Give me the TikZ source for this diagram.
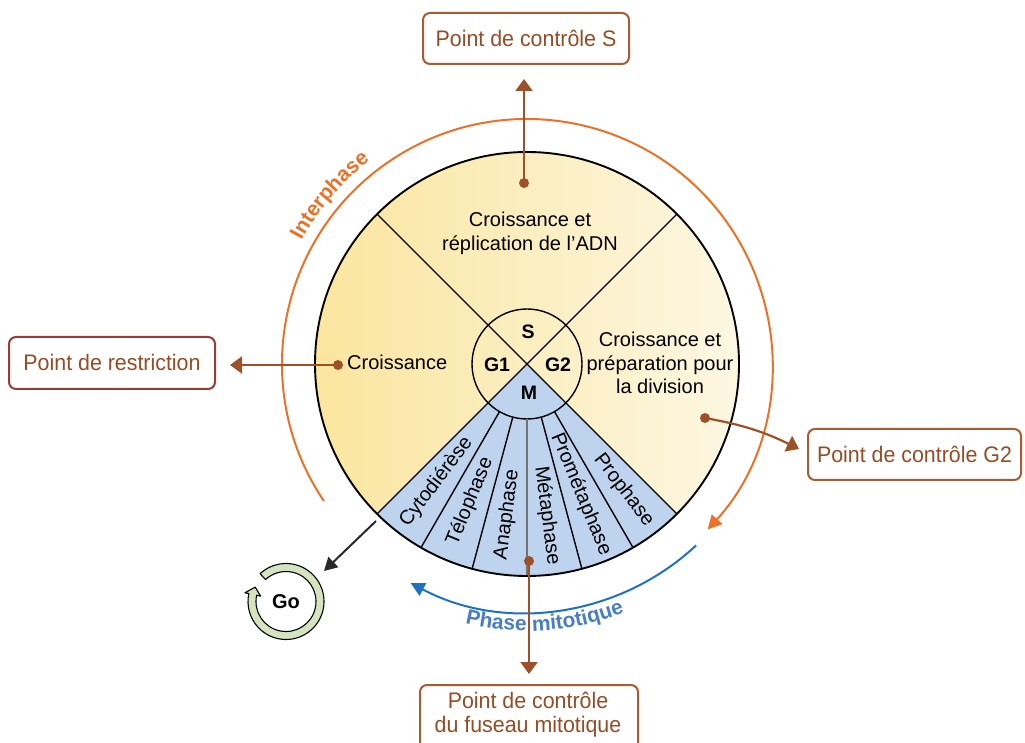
\documentclass[tikz,border=0pt]{standalone}
\usepackage{fontspec}
\setmainfont{Liberation Sans}
\newfontfamily\boxfont[FakeStretch=0.95]{Liberation Sans}
\usetikzlibrary{arrows.meta,decorations.text}
\definecolor{brn}{RGB}{150,76,36}
\definecolor{brnline}{RGB}{158,80,40}
\definecolor{brnbox}{RGB}{168,92,52}
\definecolor{redbox}{RGB}{152,60,56}
\definecolor{orng}{RGB}{234,114,40}
\definecolor{blu}{RGB}{30,114,194}
\definecolor{blutext}{RGB}{74,126,196}
\definecolor{ylwL}{RGB}{251,229,158}
\definecolor{ylwM}{RGB}{251,238,192}
\definecolor{ylwR}{RGB}{253,247,226}
\definecolor{mblue}{RGB}{190,211,237}
\definecolor{gring}{RGB}{213,228,190}
\definecolor{grayline}{RGB}{115,115,115}
\definecolor{darkarr}{RGB}{40,40,40}
\tikzset{
  cbox/.style={draw=brnbox, line width=2pt, rounded corners=7pt, text=brn,
     font=\boxfont\fontsize{22.5}{24}\selectfont, inner sep=0pt, text height=16pt, text depth=0pt},
  body/.style={font=\fontsize{20}{24}\selectfont, inner sep=0pt, align=center},
  phase/.style={font=\fontsize{20}{24}\selectfont, inner sep=0pt},
  lbl/.style={font=\bfseries\fontsize{19.5}{24}\selectfont, inner sep=0pt},
  dot/.style={circle, fill=brnline, minimum size=10pt, inner sep=0pt},
  conn/.style={draw=brnline, line width=2.2pt, -{Triangle[length=12pt,width=17pt]}},
  divider/.style={line width=1.4pt},
}
\begin{document}
\begin{tikzpicture}[x=1pt,y=1pt]
\useasboundingbox (0,0) rectangle (1025,742);
\fill[white] (0,0) rectangle (1025,742);

% yellow disc
\begin{scope}
\clip (527,378) circle[radius=212pt];
\shade[left color=ylwL, right color=ylwR, middle color=ylwM] (315,166) rectangle (739,590);
\end{scope}

\begin{scope}[shift={(527,378)}]
  \fill[mblue] (0,0) -- (-135:212) arc[start angle=-135, end angle=-45, radius=212pt] -- cycle;
  \draw[divider] (135:212) -- (-45:212);
  \draw[divider] (45:212) -- (-135:212);
  \draw[divider] (0,0) circle[radius=55pt];
  \foreach \a in {-120,-105,-75,-60} \draw[divider] (\a:55) -- (\a:212);
  \draw[grayline, line width=1.2pt] (-90:55) -- (-90:212);
  \draw[line width=1.9pt] (0,0) circle[radius=212pt];

  \node[lbl] (lS) at (1,32) {S};
  \node[lbl] (lG1) at (-30,-1) {G1};
  \node[lbl] (lG2) at (31,-1) {G2};
  \node[lbl] (lM) at (2,-29) {M};

  \node[phase, rotate=52.5] (p1) at (-127.5:149) {Cytodiérèse};
  \node[phase, rotate=67.5] (p2) at (-112.5:149) {Télophase};
  \node[phase, rotate=82.5] (p3) at (-97.5:152) {Anaphase};
  \node[phase, rotate=-82.5] (p4) at (-82.5:153) {Métaphase};
  \node[phase, rotate=-67.5] (p5) at (-67.5:141) {Prométaphase};
  \node[phase, rotate=-52.5] (p6) at (-52.5:159) {Prophase};

  % interphase arc
  \draw[orng, line width=2pt, -{Triangle[length=14pt,width=14pt]}] (214:245) arc[start angle=214, end angle=-42.5, radius=245pt];
  % mitotic arc
  \draw[blu, line width=2pt, -{Triangle[length=14pt,width=14pt]}] (-47:248) arc[start angle=-47, end angle=-118, radius=248pt];

  \path[decorate, decoration={text along path, text align=center,
     text={|\fontsize{21}{21}\selectfont\bfseries\color{orng}|Interphase}}]
     (156:257) arc[start angle=156, end angle=123, radius=257pt];
  \path[decorate, decoration={text along path, text align=center,
     text={|\fontsize{21}{21}\selectfont\bfseries\color{blutext}|Phase mitotique}}]
     (-111:267) arc[start angle=-111, end angle=-61, radius=267pt];
\end{scope}

% body texts
\node[body] (tTop) at (530,509) {Croissance et\\réplication de l’ADN};
\node[body, font=\fontsize{20}{23.5}\selectfont] (tRight) at (660,378.8) {Croissance et\\préparation pour\\la division};
\node[body, anchor=base west] (tLeft) at (347,372) {Croissance};

% Go ring
\begin{scope}[shift={(286,140.5)}]
  \filldraw[fill=gring, draw=black, line width=1.1pt, line join=round]
    (133:38) arc[start angle=133, end angle=-192, radius=38pt]
    -- (-192:42) -- (-205:34) -- (-192:26) -- (-192:30)
    arc[start angle=-192, end angle=133, radius=30pt] -- cycle;
  \node[font=\bfseries\fontsize{20}{24}\selectfont, inner sep=0pt] (go) at (0,0) {Go};
\end{scope}
\coordinate (gs) at (376,221);
\coordinate (gt) at (324,171);
\draw[darkarr, line width=2pt, -{Triangle[length=13pt,width=14pt]}] (gs) -- (gt);

% boxes
\node[cbox, minimum width=206pt, minimum height=51pt] (bS) at (526,703.5) {Point de contrôle S};
\node[cbox, draw=redbox, minimum width=206pt, minimum height=52pt] (bR) at (112,379) {Point de restriction};
\node[cbox, minimum width=213pt, minimum height=51pt] (bG) at (914.5,287.5) {Point de contrôle G2};
\node[cbox, minimum width=218pt, minimum height=70pt, text height=0pt] (bF) at (529,22) {};
\node[text=brn, font=\boxfont\fontsize{22.5}{24}\selectfont, align=center, inner sep=0pt] (tF) at (528,26.9) {Point de contrôle\\du fuseau mitotique};

% connectors
\coordinate (tS) at (524,663);
\coordinate (tR) at (230,377);
\coordinate (tG) at (799,293);
\coordinate (tB) at (529,68);
\node[dot] (dS) at (524,559) {};
\node[dot] (dR) at (338,377) {};
\node[dot] (dG) at (705,324) {};
\node[dot] (dF) at (529,181) {};
\draw[conn] (dS.center) -- (tS);
\draw[conn] (dR.center) -- (tR);
\draw[conn] (dG.center) to[bend left=8] (tG);
\draw[conn] (dF.center) -- (tB);
\end{tikzpicture}
\end{document}
